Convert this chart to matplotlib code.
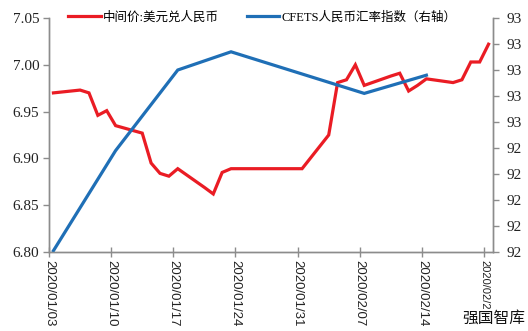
import matplotlib
matplotlib.use('Agg')
import matplotlib.pyplot as plt
import matplotlib.dates as mdates
import pandas as pd

# 中间价:美元兑人民币 (daily)
red_dates = ['2020-01-03', '2020-01-06', '2020-01-07', '2020-01-08', '2020-01-09',
             '2020-01-10', '2020-01-13', '2020-01-14', '2020-01-15', '2020-01-16',
             '2020-01-17', '2020-01-20', '2020-01-21', '2020-01-22', '2020-01-23',
             '2020-01-31', '2020-02-03', '2020-02-04', '2020-02-05', '2020-02-06',
             '2020-02-07', '2020-02-10', '2020-02-11', '2020-02-12', '2020-02-13',
             '2020-02-14', '2020-02-17', '2020-02-18', '2020-02-19', '2020-02-20',
             '2020-02-21']
red_values = [6.970, 6.973, 6.970, 6.946, 6.951,
              6.935, 6.927, 6.895, 6.884, 6.881,
              6.889, 6.869, 6.862, 6.885, 6.889,
              6.889, 6.925, 6.981, 6.984, 7.000,
              6.978, 6.988, 6.991, 6.972, 6.978,
              6.985, 6.981, 6.984, 7.003, 7.003,
              7.022]

# CFETS人民币汇率指数 (weekly, right axis)
blue_dates = ['2020-01-03', '2020-01-10', '2020-01-17', '2020-01-23', '2020-02-07', '2020-02-14']
blue_values = [92.105, 92.49, 92.80, 92.87, 92.71, 92.78]

left_ticks = [6.80, 6.85, 6.90, 6.95, 7.00, 7.05]
right_ticks = [92.1, 92.2, 92.3, 92.4, 92.5, 92.6, 92.7, 92.8, 92.9, 93.0]
right_tick_labels = ['92', '92', '92', '92', '92', '93', '93', '93', '93', '93']
x_ticks = ['2020-01-03', '2020-01-10', '2020-01-17', '2020-01-24', '2020-01-31',
           '2020-02-07', '2020-02-14', '2020-02-21']

red_label = '中间价:美元兑人民币'
blue_label = 'CFETS人民币汇率指数（右轴）'

RED = '#EA1C24'
BLUE = '#1F6FB6'
GREY = '#8C8C8C'

num_font = 'Liberation Serif'
leg_fonts = ['Liberation Serif', 'Noto Sans CJK SC', 'DejaVu Sans']

# points sit in the middle of their day, like a date axis in a spreadsheet
half_day = pd.Timedelta(hours=12)
red_x = pd.to_datetime(red_dates) + half_day
blue_x = pd.to_datetime(blue_dates) + half_day

fig = plt.figure(figsize=(5.28, 3.31), dpi=100)
ax = fig.add_axes([0.0928, 0.2387, 0.8409, 0.7069])
ax2 = ax.twinx()

l1, = ax.plot(red_x, red_values, color=RED, lw=2.3, solid_joinstyle='miter')
l2, = ax2.plot(blue_x, blue_values, color=BLUE, lw=2.3, solid_joinstyle='miter')

ax.set_xlim(pd.Timestamp('2020-01-03'), pd.Timestamp('2020-02-22'))
ax.set_ylim(6.80, 7.05)
ax2.set_ylim(92.1, 93.0)

ax.set_yticks(left_ticks)
ax.set_yticklabels(['%.2f' % v for v in left_ticks], fontfamily=num_font, fontsize=11)
ax2.set_yticks(right_ticks)
ax2.set_yticklabels(right_tick_labels, fontfamily=num_font, fontsize=11)

ax.set_xticks(pd.to_datetime(x_ticks))
ax.xaxis.set_major_formatter(mdates.DateFormatter('%Y/%m/%d'))
xlabels = ax.get_xticklabels()
for t in xlabels:
    t.set_rotation(-90)
    t.set_fontfamily('Liberation Sans')
    t.set_fontsize(9.5)
    t.set_va('top')
    t.set_ha('center')
# the last label is squeezed at the right edge
xlabels[-1].set_fontsize(8)

for a in (ax, ax2):
    a.spines['top'].set_visible(False)
    for s in ('left', 'right', 'bottom'):
        a.spines[s].set_color(GREY)
        a.spines[s].set_linewidth(1.0)
    a.tick_params(color=GREY, length=4, width=1.0, labelcolor='#222222')

ax.tick_params(axis='y', pad=3)
ax.tick_params(axis='x', direction='inout', length=7, pad=2)
ax2.tick_params(axis='y', pad=6)

fig.legend([l1, l2], [red_label, blue_label], loc='center', ncol=2,
           bbox_to_anchor=(0.497, 0.948), frameon=False,
           prop={'family': leg_fonts, 'size': 9}, handlelength=2.6,
           handletextpad=0.2, columnspacing=2.2)

fig.text(0.994, 0.012, '强国智库', ha='right', va='bottom', fontsize=11.3,
         fontfamily=['Noto Sans CJK SC'], color='#111111', zorder=10,
         bbox=dict(facecolor='white', edgecolor='none', pad=0.5))

fig.savefig('out.png', dpi=100)
